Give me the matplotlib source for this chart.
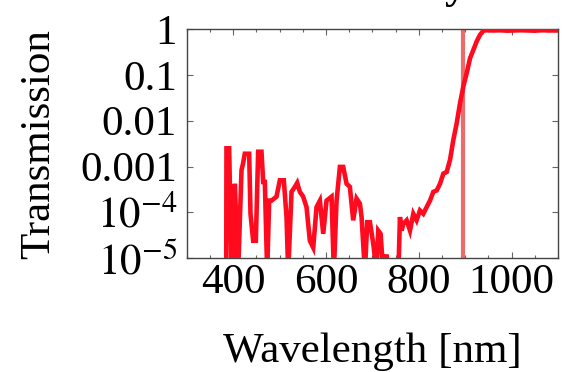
import numpy as np
import matplotlib
matplotlib.use("Agg")
import matplotlib.pyplot as plt
from matplotlib.ticker import FixedLocator, MultipleLocator

plt.rcParams['font.family'] = ['Liberation Serif', 'DejaVu Serif']
plt.rcParams['mathtext.fontset'] = 'stix'

# 투과율 데이터 (그림에서 읽은 값, 5e-6 = 축 아래로 잘림)
wavelength = [385.0, 385.5, 391.3, 396.3, 399.9, 403.5, 406.0, 410.7, 417.9, 421.5,
              425.0, 434.4, 437.3, 443.0, 448.8, 453.8, 461.0, 464.6, 468.2, 473.2,
              477.5, 482.5, 493.3, 500.5, 509.1, 514.9, 518.5, 525.7, 532.9, 537.9,
              543.6, 550.8, 558.0, 565.2, 572.4, 579.6, 586.8, 594.0, 601.1, 611.9,
              616.9, 622.7, 629.9, 637.1, 644.3, 651.4, 658.6, 665.8, 673.0, 676.6,
              683.8, 688.8, 694.6, 701.7, 708.9, 712.5, 717.6, 723.3, 730.5, 735.0,
              756.0, 759.3, 763.0, 766.5, 773.7, 780.9, 788.1, 795.2, 802.4, 809.6,
              816.8, 824.0, 831.2, 838.4, 845.6, 852.8, 860.0, 867.2, 874.3, 881.5,
              888.7, 895.9, 903.1, 910.3, 917.5, 924.7, 931.9, 939.1, 946.3, 960.0,
              975.0, 990.0, 1005.0, 1020.0, 1035.0, 1050.0, 1065.0, 1080.0, 1100.0]
transmission = [5e-6, 2.5e-3, 2.5e-3, 5e-6, 5e-6, 4.2e-4, 9e-5, 5e-6, 8.3e-4, 1.2e-3,
                1.9e-3, 1.9e-3, 9.3e-5, 2.4e-5, 2.4e-5, 2.1e-3, 2.1e-3, 4.6e-4, 4.6e-4, 5e-6,
                1.8e-4, 1.8e-4, 2.2e-4, 5.0e-4, 5.0e-4, 7.9e-5, 5e-6, 2.8e-4, 3.6e-4, 4.4e-4,
                2.8e-4, 2.2e-4, 1.3e-4, 2.4e-5, 1.7e-5, 1.3e-4, 1.8e-4, 3.4e-5, 1.8e-4, 2.2e-4,
                5e-6, 1.8e-4, 9.8e-4, 9.8e-4, 4.2e-4, 3.6e-4, 6.7e-5, 2.0e-4, 1.55e-4, 7.9e-5,
                5e-6, 6.1e-5, 6.1e-5, 2.1e-5, 5e-6, 4.0e-5, 3.4e-5, 5e-6, 1.2e-5, 5e-6,
                5e-6, 7.9e-5, 4.0e-5, 5.6e-5, 6.7e-5, 4.0e-5, 9.3e-5, 6.7e-5, 1.1e-4, 9.3e-5,
                1.3e-4, 1.8e-4, 2.8e-4, 3.0e-4, 4.2e-4, 7.0e-4, 7.6e-4, 1.4e-3, 3.8e-3, 8.7e-3,
                0.024, 0.056, 0.109, 0.23, 0.35, 0.54, 0.75, 0.92, 0.94, 0.93,
                0.94, 0.92, 0.93, 0.94, 0.93, 0.92, 0.94, 0.93, 0.93]
marker_wl = 895
ytick_vals = [1e-5, 1e-4, 1e-3, 1e-2, 1e-1, 1]
ytick_labels = [r'$10^{-5}$', r'$10^{-4}$', '0.001', '0.01', '0.1', '1']
xtick_vals = [400, 600, 800, 1000]

fig = plt.figure(figsize=(5.66, 3.72), dpi=100)
ax = fig.add_axes([0.330, 0.306, 0.656, 0.616])

ax.axvline(marker_wl, color='#ec6b6b', lw=3.0, zorder=2)
ax.plot(wavelength, transmission, color='#ff0a1e', lw=3.3, zorder=3, solid_joinstyle='miter')

ax.set_yscale('log')
ax.set_xlim(300, 1100)
ax.set_ylim(1e-5, 1)
ax.yaxis.set_major_locator(FixedLocator(ytick_vals))
ax.yaxis.set_minor_locator(FixedLocator([]))
ax.set_yticklabels(ytick_labels)
ax.xaxis.set_major_locator(FixedLocator(xtick_vals))
ax.xaxis.set_minor_locator(MultipleLocator(50))

for s in ax.spines.values():
    s.set_color('#444444')
    s.set_linewidth(1.0)
ax.tick_params(which='both', direction='in', top=True, right=True, color='#666666', width=0.8)
ax.tick_params(which='major', length=4, labelsize=31, pad=7)
ax.tick_params(which='minor', length=2.5)
ax.tick_params(axis='x', which='major', pad=4)

ax.set_xlabel('Wavelength [nm]', fontsize=31, labelpad=22)
ax.set_ylabel('Transmission', fontsize=31, labelpad=16)

# 위쪽에 잘린 제목 일부
fig.text(0.805, 1.006, 'y', fontsize=31, fontweight='bold', ha='center', va='baseline')

fig.savefig('out.png', dpi=100)
